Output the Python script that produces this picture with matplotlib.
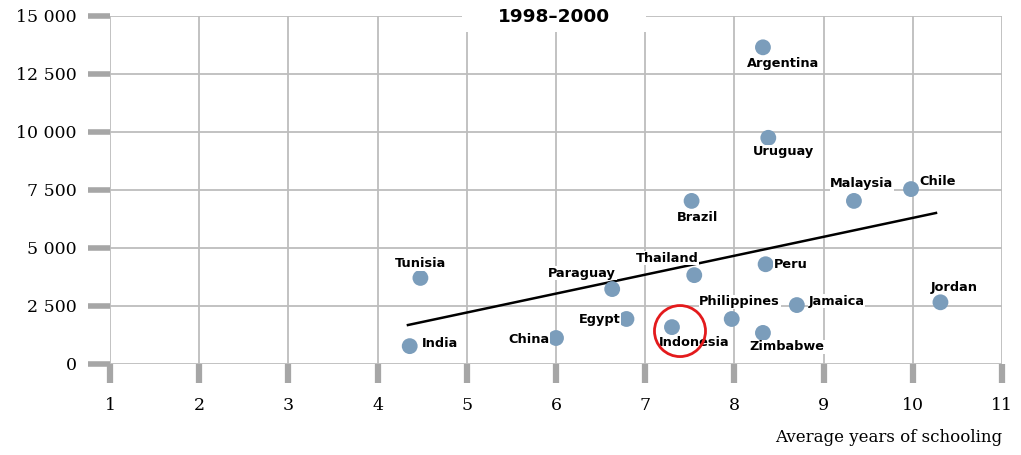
import matplotlib
matplotlib.use("Agg")
import matplotlib.pyplot as plt
from matplotlib.patches import Rectangle

# data
countries = ["Argentina", "Uruguay", "Malaysia", "Chile", "Brazil", "Tunisia",
             "Thailand", "Peru", "Paraguay", "Jordan", "Jamaica", "Philippines",
             "Egypt", "Indonesia", "Zimbabwe", "China", "India"]
schooling = [8.32, 8.38, 9.34, 9.98, 7.52, 4.48,
             7.55, 8.35, 6.63, 10.31, 8.70, 7.97,
             6.79, 7.30, 8.32, 6.00, 4.36]
gdp = [13650, 9750, 7030, 7540, 7030, 3710,
       3830, 4300, 3230, 2660, 2540, 1940,
       1940, 1590, 1340, 1120, 770]

trend_x = [4.34, 10.26]
trend_y = [1680, 6510]

highlight_x = [7.39]
highlight_y = [1420]

x_ticks = [1, 2, 3, 4, 5, 6, 7, 8, 9, 10, 11]
y_ticks = [0, 2500, 5000, 7500, 10000, 12500, 15000]
y_ticklabels = ["0", "2 500", "5 000", "7 500", "10 000", "12 500", "15 000"]

# label offsets in pixels (dx, dy), dy positive = up
label_off = {
    "Argentina": (20, -16), "Uruguay": (15, -14), "Malaysia": (8, 17),
    "Chile": (27, 8), "Brazil": (6, -17), "Tunisia": (0, 14),
    "Thailand": (-27, 17), "Peru": (25, 0), "Paraguay": (-30, 16),
    "Jordan": (14, 15), "Jamaica": (40, 4), "Philippines": (8, 17),
    "Egypt": (-27, -1), "Indonesia": (22, -15), "Zimbabwe": (24, -14),
    "China": (-27, -1), "India": (30, 3),
}

grid_col = "#BDBDBD"
tick_col = "#A6A6A6"
dot_col = "#7B9DBB"
serif = "DejaVu Serif"

fig = plt.figure(figsize=(10.21, 4.55), dpi=100)
ax = fig.add_axes([110 / 1021, 91 / 455, 892 / 1021, 348 / 455])

ax.set_xlim(1, 11)
ax.set_ylim(0, 15000)
ax.set_xticks(x_ticks)
ax.set_yticks(y_ticks)
ax.set_yticklabels(y_ticklabels)
ax.grid(True, color=grid_col, linewidth=1.3)
ax.set_axisbelow(True)
for s in ax.spines.values():
    s.set_visible(False)
ax.tick_params(axis="y", length=16, width=4, color=tick_col, pad=8,
               labelsize=12.5, labelfontfamily=serif)
ax.tick_params(axis="x", length=14, width=4.5, color=tick_col, pad=10,
               labelsize=12.5, labelfontfamily=serif)

ax.plot(trend_x, trend_y, color="black", linewidth=1.8, zorder=2)
ax.scatter(schooling, gdp, s=130, color=dot_col, edgecolors="none", zorder=3)

for name, x, y in zip(countries, schooling, gdp):
    dx, dy = label_off[name]
    ax.annotate(name, (x, y), xytext=(dx * 0.72, dy * 0.72),
                textcoords="offset points", ha="center", va="center",
                fontsize=9.3, fontweight="bold", fontfamily="DejaVu Sans",
                bbox=dict(boxstyle="square,pad=0.05", fc="white", ec="none"),
                zorder=4)

ax.scatter(highlight_x, highlight_y, s=1350, facecolors="none",
           edgecolors="#E31A1C", linewidths=2, zorder=5)

# white panel behind the title, cutting the top grid line
fig.add_artist(Rectangle((462 / 1021, 1 - 32 / 455), 184 / 1021, 32 / 455,
                         transform=fig.transFigure, fc="white", ec="none",
                         zorder=5))
fig.text(554 / 1021, 1 - 17 / 455, "1998\u20132000", ha="center", va="center",
         fontsize=13.3, fontweight="bold", fontfamily="DejaVu Sans", zorder=10)

fig.text(1002 / 1021, 1 - 437 / 455, "Average years of schooling", ha="right",
         va="center", fontsize=12, fontfamily=serif)

fig.savefig("out.png", dpi=100)
